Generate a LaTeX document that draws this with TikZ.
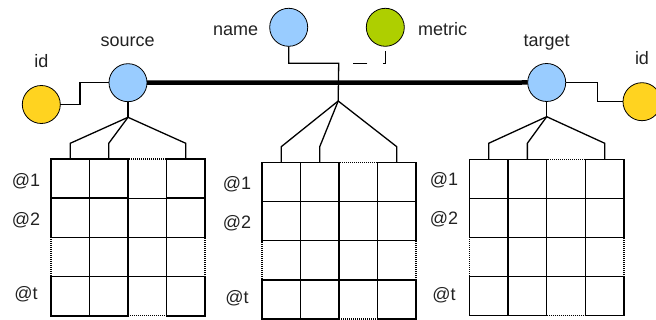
\documentclass[tikz,border=0pt]{standalone}
\usepackage{fontspec}
\setmainfont{Liberation Sans}
\definecolor{cblue}{HTML}{99CCFF}
\definecolor{cgold}{HTML}{FFD320}
\definecolor{cgreen}{HTML}{AECF00}
\definecolor{ctext}{HTML}{222222}
\tikzset{
  attr/.style={circle, draw=black, line width=0.8pt, minimum size=38pt, inner sep=0pt, outer sep=0pt},
  lbl/.style={anchor=base, inner sep=0pt, text=ctext, font=\fontsize{18}{20}\selectfont},
  cellbox/.style={draw=black, line width=1.3pt, dash pattern=on 1pt off 1pt, inner sep=0pt, outer sep=0pt, anchor=north west},
  solidcell/.style={draw=black, line width=1.5pt, solid},
  conn/.style={draw=black, line width=1.3pt},
}
\newcommand\mygrid[5]{%
  \foreach \rr in {1,...,4}{\foreach \cc in {1,...,4}{
    \node[cellbox, minimum width=#4pt, minimum height=#5pt] (#1-\rr-\cc) at ({#2+(\cc-1)*#4},{#3+(\rr-1)*#5}) {};
  }}
  \foreach \rr in {1,2,4}{\foreach \cc in {1,2,4}{
    \draw[solidcell] (#1-\rr-\cc.north west) rectangle (#1-\rr-\cc.south east);
  }}
}
\begin{document}
\begin{tikzpicture}[x=1pt,y=-1pt]
\useasboundingbox (0,0) rectangle (656,320);

% grids
\mygrid{L}{51}{159}{38.5}{39.2}
\mygrid{M}{262}{162.3}{38.5}{39.2}
\mygrid{R}{469.3}{159.3}{38.7}{39.1}

% labels of rows
\node[lbl] (l1) at (26,187) {@1};
\node[lbl] (l2) at (26,226) {@2};
\node[lbl] (lt) at (26,300) {@t};
\node[lbl] (m1) at (237,190) {@1};
\node[lbl] (m2) at (237,229) {@2};
\node[lbl] (mt) at (237,304) {@t};
\node[lbl] (r1) at (444,186) {@1};
\node[lbl] (r2) at (444,225) {@2};
\node[lbl] (rt) at (444,301) {@t};

% circles
\node[attr, fill=cblue] (src) at (128,82.7) {};
\node[attr, fill=cblue] (tgt) at (546.7,82.5) {};
\node[attr, fill=cblue] (name) at (288.7,27.3) {};
\node[attr, fill=cgreen] (metric) at (385.3,27.3) {};
\node[attr, fill=cgold] (idL) at (41.3,104.5) {};
\node[attr, fill=cgold] (idR) at (642,101.7) {};

% circle labels
\node[lbl] (tsrc) at (127.7,46.5) {source};
\node[lbl] (ttgt) at (546.7,46.5) {target};
\node[lbl] (tname) at (235.7,35.5) {name};
\node[lbl] (tmetric) at (442.7,35.5) {metric};
\node[lbl] (tidL) at (41.3,68) {id};
\node[lbl] (tidR) at (642,65) {id};

% coordinates
\coordinate (kL) at (80,0);
\coordinate (kR) at (597.7,0);
\coordinate (jM) at (338.7,63.3);
\coordinate (hubL) at (128,117.3);
\coordinate (hubM) at (338.2,101);
\coordinate (hubR) at (546.7,116.7);
\coordinate (bL) at (0,143.3);
\coordinate (bM) at (0,146.7);
\coordinate (bR) at (0,143.3);

% connectors
\draw[line width=4.5pt] (src.east) -- (tgt.west);
\draw[conn] (idL.east) -- (idL.east -| kL) |- (src.west);
\draw[conn] (tgt.east) -- (tgt.east -| kR) |- (idR.west);
\draw[conn] (name.south) |- (jM) -- (hubM);
\draw[conn, dash pattern=on 14pt off 16pt, dash phase=25pt] (metric.south) |- (jM);

\draw[conn] (src.south) -- (hubL);
\draw[conn] (tgt.south) -- (hubR);
\foreach \cc in {1,2,4}{
  \draw[conn] (hubL) -- (L-1-\cc.north |- bL) -- (L-1-\cc.north);
  \draw[conn] (hubM) -- (M-1-\cc.north |- bM) -- (M-1-\cc.north);
  \draw[conn] (hubR) -- (R-1-\cc.north |- bR) -- (R-1-\cc.north);
}
\end{tikzpicture}
\end{document}
